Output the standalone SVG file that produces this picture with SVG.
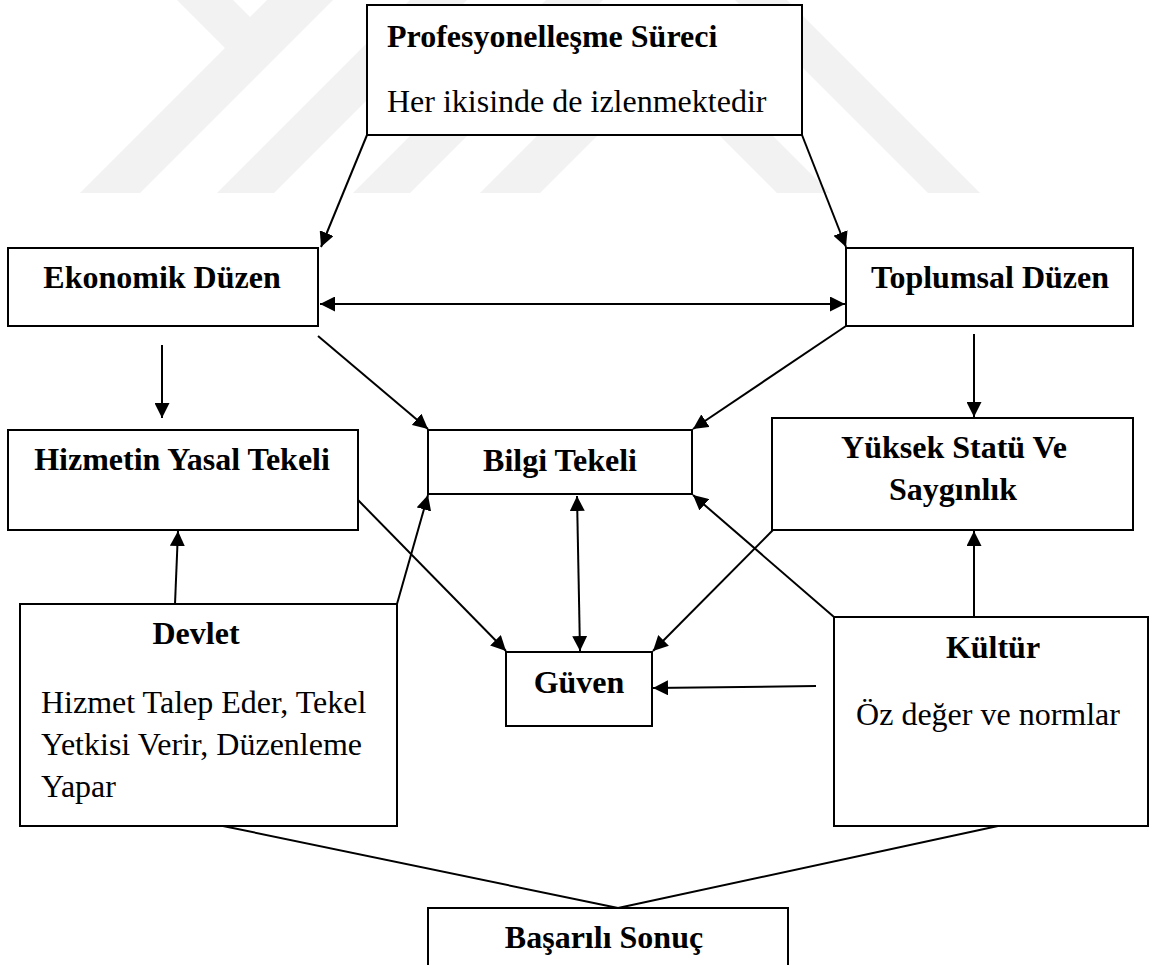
<svg xmlns="http://www.w3.org/2000/svg" width="1154" height="965" viewBox="0 0 1154 965">
<style>
.wm{fill:#f2f2f2}
.box{fill:#ffffff;stroke:#000;stroke-width:2}
.t{font-family:"Liberation Serif","Times New Roman",serif;font-size:32px;fill:#000}
.b{font-weight:bold}
.m{text-anchor:middle}
.c line{stroke:#000;stroke-width:2}
.a{marker-end:url(#ah)}
.ab{marker-end:url(#ah);marker-start:url(#ah)}
</style>
<defs>
<marker id="ah" viewBox="0 0 15 15" refX="15" refY="7.5" markerWidth="15" markerHeight="15" markerUnits="userSpaceOnUse" orient="auto-start-reverse">
<path d="M0,0 L15,7.5 L0,15 z" fill="#000"/>
</marker>
</defs>
<rect width="1154" height="965" fill="#fff"/>
<g id="watermark">
<polygon class="wm" points="177,0 233,0 250,17 267,0 333,0 140,193 80,193 225,48"/>
<polygon class="wm" points="410,0 467,0 274,193 217,193"/>
<polygon class="wm" points="546,0 603,0 410,193 353,193"/>
<polygon class="wm" points="663,10 723,10 540,193 480,193"/>
<polygon class="wm" points="594,10 647,10 830,193 777,193"/>
<polygon class="wm" points="735,0 787,0 980,193 928,193"/>
</g>
<g id="connectors" class="c">
<line class="a" x1="367" y1="135" x2="321" y2="247"/>
<line class="a" x1="802" y1="135" x2="846" y2="247"/>
<line class="ab" x1="320" y1="304" x2="845" y2="304"/>
<line class="a" x1="162" y1="345" x2="162" y2="418"/>
<line class="a" x1="974" y1="334" x2="974" y2="417"/>
<line class="a" x1="318" y1="336" x2="428" y2="429"/>
<line class="a" x1="846" y1="326" x2="693" y2="429"/>
<line class="a" x1="175" y1="604" x2="178" y2="531"/>
<line class="a" x1="397" y1="604" x2="428" y2="495"/>
<line class="a" x1="358" y1="500" x2="506" y2="651"/>
<line class="ab" x1="577" y1="496" x2="580" y2="651"/>
<line class="a" x1="773" y1="530" x2="653" y2="651"/>
<line class="a" x1="834" y1="617" x2="693" y2="495"/>
<line class="a" x1="974" y1="617" x2="974" y2="531"/>
<line class="a" x1="816" y1="686" x2="653" y2="688"/>
<line x1="223" y1="826" x2="618" y2="908"/>
<line x1="998" y1="826" x2="618" y2="908"/>
</g>
<g id="n-prof">
<rect class="box" x="367" y="5" width="435" height="130"/>
<text class="t b" x="387" y="47">Profesyonelleşme Süreci</text>
<text class="t" x="387" y="112">Her ikisinde de izlenmektedir</text>
</g>
<g id="n-ekonomik">
<rect class="box" x="8" y="248" width="310" height="78"/>
<text class="t b m" x="162" y="288">Ekonomik Düzen</text>
</g>
<g id="n-toplumsal">
<rect class="box" x="846" y="248" width="287" height="78"/>
<text class="t b m" x="990" y="288">Toplumsal Düzen</text>
</g>
<g id="n-hizmetin">
<rect class="box" x="8" y="430" width="350" height="100"/>
<text class="t b m" x="182" y="470">Hizmetin Yasal Tekeli</text>
</g>
<g id="n-bilgi">
<rect class="box" x="428" y="430" width="264" height="64"/>
<text class="t b m" x="560" y="471">Bilgi Tekeli</text>
</g>
<g id="n-yuksek">
<rect class="box" x="772" y="418" width="361" height="112"/>
<text class="t b m" x="954" y="458">Yüksek Statü Ve</text>
<text class="t b m" x="953" y="500">Saygınlık</text>
</g>
<g id="n-guven">
<rect class="box" x="506" y="652" width="146" height="74"/>
<text class="t b m" x="579" y="693">Güven</text>
</g>
<g id="n-devlet">
<rect class="box" x="20" y="604" width="377" height="222"/>
<text class="t b m" x="196" y="644">Devlet</text>
<text class="t" x="41" y="713">Hizmet Talep Eder, Tekel</text>
<text class="t" x="41" y="755">Yetkisi Verir, Düzenleme</text>
<text class="t" x="41" y="797">Yapar</text>
</g>
<g id="n-kultur">
<rect class="box" x="834" y="617" width="314" height="209"/>
<text class="t b m" x="993" y="658">Kültür</text>
<text class="t m" x="988" y="725">Öz değer ve normlar</text>
</g>
<g id="n-basarili">
<rect class="box" x="428" y="908" width="360" height="70"/>
<text class="t b m" x="604" y="948">Başarılı Sonuç</text>
</g>
</svg>
